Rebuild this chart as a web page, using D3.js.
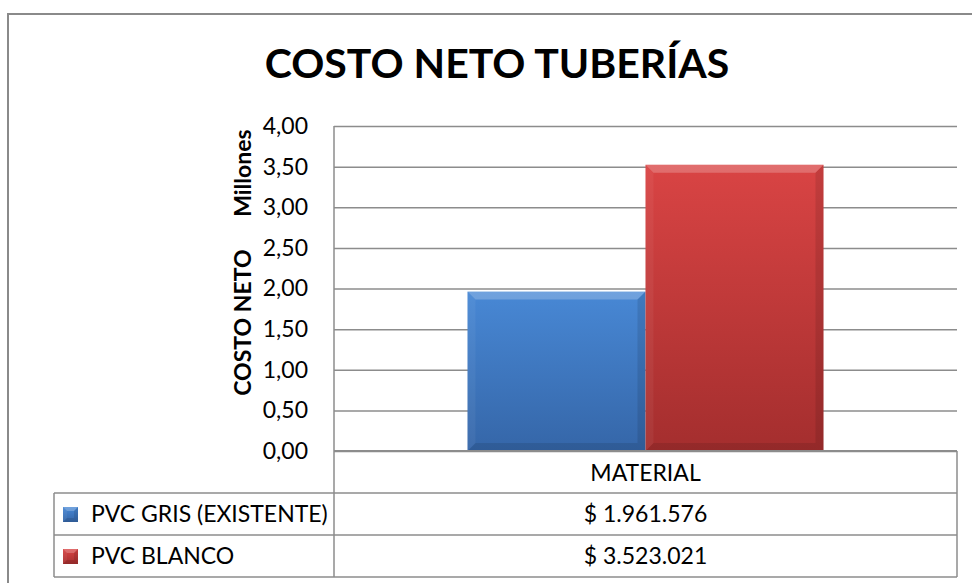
<!DOCTYPE html>
<html>
<head>
<meta charset="utf-8">
<script src="https://cdn.jsdelivr.net/npm/d3@7"></script>
<style>
  html, body { margin: 0; padding: 0; background: #fff; }
  svg { display: block; font-family: Lato, "Open Sans", sans-serif; }
</style>
</head>
<body>
<svg id="chart" width="972" height="583"></svg>
<script>
// data
const categories = ["MATERIAL"];
const seriesNames = ["PVC GRIS (EXISTENTE)", "PVC BLANCO"];
const seriesValues = [1961576, 3523021];
const seriesColors = [
    { top: "#4888d5", bottom: "#3566a8" },
    { top: "#d94444", bottom: "#a42e2e" }
];
const yTicks = [0, 500000, 1000000, 1500000, 2000000, 2500000, 3000000, 3500000, 4000000];

const svg = d3.select("#chart");
const locale = d3.formatLocale({ decimal: ",", thousands: ".", grouping: [3], currency: ["$ ", ""] });
const fmtTick = locale.format(",.2f");
const fmtMoney = locale.format("$,.0f");

const plot = { left: 334, right: 957, top: 126, bottom: 451 };
const rowH = 42;
const tableLeft = 54;
const gray = "#8c8c8c";
const fs = 23;

const y = d3.scaleLinear().domain([0, 4000000]).range([plot.bottom, plot.top]);
const x0 = d3.scaleBand().domain(categories).range([plot.left, plot.right]);
const x1 = d3.scaleBand().domain(seriesNames).range([0, x0.bandwidth()])
    .paddingInner(0).paddingOuter(0.75);

// outer chart frame
svg.append("rect")
    .attr("x", 8).attr("y", 14)
    .attr("width", 980).attr("height", 590)
    .attr("fill", "#fff").attr("stroke", "#8a8a8a").attr("stroke-width", 2);

// title
svg.append("text")
    .attr("x", 497).attr("y", 78)
    .attr("text-anchor", "middle")
    .attr("font-size", 41).attr("font-weight", "bold")
    .text("COSTO NETO TUBERÍAS");

// gradients
const defs = svg.append("defs");
seriesColors.forEach((c, i) => {
    const g = defs.append("linearGradient")
        .attr("id", "grad" + i)
        .attr("x1", 0).attr("y1", 0).attr("x2", 0).attr("y2", 1);
    g.append("stop").attr("offset", "0%").attr("stop-color", c.top);
    g.append("stop").attr("offset", "100%").attr("stop-color", c.bottom);
});

// gridlines + tick labels
const yAxis = d3.axisLeft(y)
    .tickValues(yTicks)
    .tickSize(-(plot.right - plot.left))
    .tickPadding(26)
    .tickFormat(d => fmtTick(d / 1e6));

const gy = svg.append("g")
    .attr("transform", `translate(${plot.left},0)`)
    .call(yAxis);
gy.select(".domain").remove();
gy.selectAll(".tick line").attr("stroke", gray).attr("stroke-width", 1.5);
gy.selectAll(".tick text")
    .attr("font-size", fs).attr("fill", "#000")
    .attr("font-family", "Lato, sans-serif");

// axis titles
svg.append("text")
    .attr("transform", `translate(251,${y(3420000)}) rotate(-90)`)
    .attr("text-anchor", "middle")
    .attr("font-size", fs).attr("font-weight", "bold")
    .text("Millones");
svg.append("text")
    .attr("transform", `translate(251,${y(1580000)}) rotate(-90)`)
    .attr("text-anchor", "middle")
    .attr("font-size", fs).attr("font-weight", "bold")
    .text("COSTO NETO");

// beveled bar helper
function bevelBox(g, bx, by, w, h, b, gradId) {
    g.append("rect")
        .attr("x", bx).attr("y", by).attr("width", w).attr("height", h)
        .attr("fill", `url(#${gradId})`);
    const faces = [
        { pts: [[bx, by], [bx + w, by], [bx + w - b, by + b], [bx + b, by + b]], fill: "#fff", op: 0.22 },
        { pts: [[bx, by], [bx + b, by + b], [bx + b, by + h - b], [bx, by + h]], fill: "#fff", op: 0.05 },
        { pts: [[bx + w, by], [bx + w, by + h], [bx + w - b, by + h - b], [bx + w - b, by + b]], fill: "#000", op: 0.1 },
        { pts: [[bx, by + h], [bx + b, by + h - b], [bx + w - b, by + h - b], [bx + w, by + h]], fill: "#000", op: 0.1 }
    ];
    faces.forEach(f => {
        g.append("polygon")
            .attr("points", f.pts.map(p => p.join(",")).join(" "))
            .attr("fill", f.fill).attr("fill-opacity", f.op);
    });
}

// bars
const barsG = svg.append("g");
seriesNames.forEach((s, i) => {
    const bx = x0(categories[0]) + x1(s);
    const by = y(seriesValues[i]);
    bevelBox(barsG, bx, by, x1.bandwidth(), y(0) - by, 8, "grad" + i);
});

// axis line and zero line
svg.append("line")
    .attr("x1", plot.left).attr("x2", plot.right)
    .attr("y1", y(0)).attr("y2", y(0))
    .attr("stroke", gray).attr("stroke-width", 2);
svg.append("line")
    .attr("x1", plot.left).attr("x2", plot.left)
    .attr("y1", plot.top).attr("y2", plot.bottom + rowH * 3)
    .attr("stroke", gray).attr("stroke-width", 1.5);

// data table
const table = svg.append("g");
const tTop = plot.bottom;
[1, 2, 3].forEach(r => {
    table.append("line")
        .attr("x1", tableLeft).attr("x2", plot.right)
        .attr("y1", tTop + rowH * r).attr("y2", tTop + rowH * r);
});
table.append("line")
    .attr("x1", tableLeft).attr("x2", tableLeft)
    .attr("y1", tTop + rowH).attr("y2", tTop + rowH * 3);
table.append("line")
    .attr("x1", plot.right).attr("x2", plot.right)
    .attr("y1", tTop).attr("y2", tTop + rowH * 3);
table.selectAll("line").attr("stroke", gray).attr("stroke-width", 1.5);

const cx = x0(categories[0]) + x0.bandwidth() / 2;
table.append("text")
    .attr("x", cx).attr("y", tTop + 30)
    .attr("text-anchor", "middle").attr("font-size", fs)
    .text(categories[0]);

seriesNames.forEach((s, i) => {
    const rowTop = tTop + rowH * (i + 1);
    const kg = table.append("g");
    bevelBox(kg, 63, rowTop + 14, 15, 15, 4, "grad" + i);
    table.append("text")
        .attr("x", 91).attr("y", rowTop + 29)
        .attr("font-size", fs)
        .text(s);
    table.append("text")
        .attr("x", cx).attr("y", rowTop + 29)
        .attr("text-anchor", "middle").attr("font-size", fs)
        .text(fmtMoney(seriesValues[i]));
});
</script>
</body>
</html>
